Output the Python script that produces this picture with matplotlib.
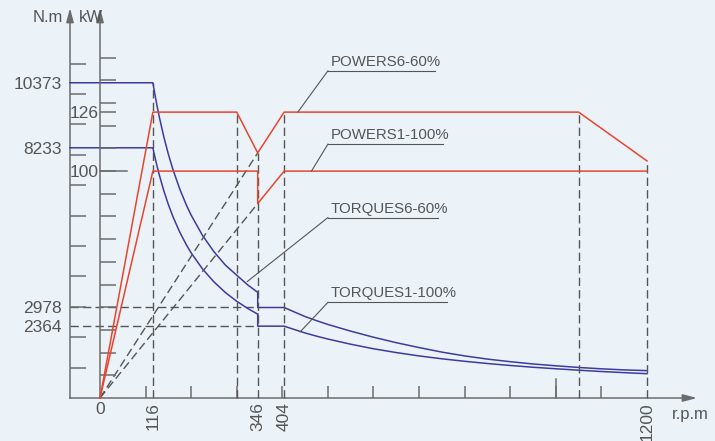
import matplotlib
matplotlib.use("Agg")
import matplotlib.pyplot as plt
from matplotlib.lines import Line2D
from matplotlib.ticker import FixedLocator, FixedFormatter

plt.rcParams['font.family'] = ['Liberation Sans', 'DejaVu Sans']

# ---------------- data ----------------
# Torque S6-60% (upper blue curve)
s6_torque_rpm_a = [0, 116, 120, 125, 130, 140, 150, 160, 175, 190, 200, 225, 250, 275, 300, 325, 346]
s6_torque_a = [10373, 10373, 10026, 9625, 9255, 8594, 8021, 7520, 6875, 6332, 6016, 5347, 4813,
               4375, 4040, 3710, 3477]
s6_torque_rpm_b = [346, 346, 404, 425, 450, 475, 500, 550, 600, 650, 700, 750, 800, 850, 900, 950,
                   1000, 1050, 1100, 1150, 1200]
s6_torque_b = [3477, 2978, 2978, 2840, 2680, 2545, 2420, 2200, 2000, 1820, 1660, 1510, 1385, 1280,
               1195, 1120, 1060, 1005, 960, 925, 900]

# Torque S1-100% (lower blue curve)
s1_torque_rpm_a = [0, 116, 120, 125, 130, 140, 150, 160, 175, 190, 200, 225, 250, 275, 300, 325, 346]
s1_torque_a = [8233, 8233, 7958, 7639, 7345, 6821, 6366, 5968, 5457, 5026, 4775, 4244, 3820, 3472,
               3183, 2938, 2760]
s1_torque_rpm_b = [346, 346, 404, 425, 450, 475, 500, 550, 600, 650, 700, 750, 800, 850, 900, 950,
                   1000, 1050, 1100, 1150, 1200]
s1_torque_b = [2760, 2364, 2364, 2260, 2140, 2035, 1940, 1770, 1620, 1495, 1385, 1290, 1208, 1135,
               1070, 1012, 962, 915, 872, 834, 800]

# Power S6-60% and S1-100% (red)
s6_power_rpm = [0, 116, 300, 346, 404, 1050, 1200]
s6_power = [0, 126, 126, 108, 126, 126, 104.5]
s1_power_rpm = [0, 116, 346, 346, 404, 1200]
s1_power = [0, 100, 100, 85.7, 100, 100]

# constant-torque construction lines from origin (power)
const_rpm = [0, 346]
const_power_hi = [0, 108]
const_power_lo = [0, 85.7]

# reference (dashed) torque levels
ref_torques = [2978, 2364]
ref_torque_end_rpm = 346

# vertical dashed markers: rpm, top value (kW)
vmark_rpm = [300, 346, 404, 1050, 1200]
vmark_top_kw = [126, 108, 126, 126, 104.5]
vmark_116_top_torque = 10373

# ticks
x_labels = [0, 116, 346, 404, 1200]
x_minor = [100, 200, 300, 400, 500, 600, 700, 800, 900, 1000, 1100]
x_long_tick = 1000
torque_labels = [2364, 2978, 8233, 10373]
torque_minor = [1000, 2000, 3000, 4000, 5000, 6000, 7000, 8000, 9000, 10000, 11000]
power_labels = [100, 126]
power_minor = [10, 20, 30, 40, 50, 60, 70, 80, 90, 100, 110, 120, 126, 130, 140, 150]
power_long_tick = 100

# annotation labels: text, anchor rpm, anchor value, axis ('p' power / 't' torque)
ann_text = ["POWERS6-60%", "POWERS1-100%", "TORQUES6-60%", "TORQUES1-100%"]
ann_rpm = [434, 464, 323, 439]
ann_val = [126, 100, 3830, 2175]
ann_axis = ['p', 'p', 't', 't']

# ---------------- layout ----------------
W, H = 715, 441
X0_PX, ZERO_PX = 100.0, 398.0          # pixel of rpm 0 / value 0 (from top)
X_SCALE = 0.4558                       # px per rpm
T_SCALE = 0.03039                      # px per N.m
P_SCALE = 2.269                        # px per kW
TAXIS_PX = 70.0
TOP_PX = 8.0
XARROW_PX = 697.0

BG = '#ECF3F8'
BLUE = '#3b3ba0'
RED = '#e8452f'
GREY = '#6c6c6c'
DASH = '#555555'
TXT = '#555555'
LABEL_FS = 12.5
ANN_FS = 10.8

def rpm_of(px):
    return (px - X0_PX) / X_SCALE

fig = plt.figure(figsize=(W / 100, H / 100), dpi=100, facecolor=BG)
ax = fig.add_axes([0, 0, 1, 1])
ax.set_facecolor(BG)
ax.set_xlim(rpm_of(0), rpm_of(W))
ax.set_ylim(-(H - ZERO_PX) / T_SCALE, ZERO_PX / T_SCALE)
ax2 = ax.twinx()
ax2.set_ylim(-(H - ZERO_PX) / P_SCALE, ZERO_PX / P_SCALE)
ax2.set_position([0, 0, 1, 1])
ax.set_position([0, 0, 1, 1])

taxis_x = rpm_of(TAXIS_PX)
t_top = (ZERO_PX - TOP_PX) / T_SCALE
p_top = (ZERO_PX - TOP_PX) / P_SCALE
x_end = rpm_of(XARROW_PX)

for a in (ax, ax2):
    for s in ('top', 'right'):
        a.spines[s].set_visible(False)
ax2.spines['bottom'].set_visible(False)

spw = 1.1
ax.spines['left'].set_position(('data', taxis_x))
ax.spines['left'].set_bounds(0, t_top - 8 / T_SCALE)
ax.spines['bottom'].set_position(('data', 0))
ax.spines['bottom'].set_bounds(taxis_x, x_end - 8 / X_SCALE)
ax2.spines['left'].set_position(('data', 0))
ax2.spines['left'].set_bounds(0, p_top - 8 / P_SCALE)
for sp in (ax.spines['left'], ax.spines['bottom'], ax2.spines['left']):
    sp.set_color(GREY)
    sp.set_linewidth(spw)

# arrows
arr = dict(arrowstyle='-|>,head_length=0.6,head_width=0.16', color=GREY, lw=spw,
           mutation_scale=14, shrinkA=0, shrinkB=0)
ax.annotate('', xy=(taxis_x, t_top), xytext=(taxis_x, t_top - 12 / T_SCALE), arrowprops=arr)
ax2.annotate('', xy=(0, p_top), xytext=(0, p_top - 12 / P_SCALE), arrowprops=arr)
ax.annotate('', xy=(x_end, 0), xytext=(x_end - 12 / X_SCALE, 0), arrowprops=arr)

# ticks: x
ax.xaxis.set_major_locator(FixedLocator(x_labels))
ax.xaxis.set_major_formatter(FixedFormatter([str(v) for v in x_labels]))
ax.xaxis.set_minor_locator(FixedLocator(x_minor))
ax.tick_params(axis='x', which='major', length=0, pad=3, labelsize=LABEL_FS,
               labelcolor=TXT, labelrotation=90)
ax.tick_params(axis='x', which='minor', length=12 * 0.72, width=spw,
               direction='in', color=GREY)
for lab in ax.get_xticklabels():
    if lab.get_text() == '0':
        lab.set_rotation(0)
ax.plot([x_long_tick, x_long_tick], [0, 19 / T_SCALE], color=GREY, lw=spw, zorder=2)

# ticks: torque
ax.yaxis.set_major_locator(FixedLocator(torque_labels))
ax.yaxis.set_major_formatter(FixedFormatter([str(v) for v in torque_labels]))
ax.yaxis.set_minor_locator(FixedLocator(torque_minor))
ax.tick_params(axis='y', which='major', length=0, pad=6, labelsize=LABEL_FS, labelcolor=TXT)
ax.tick_params(axis='y', which='minor', length=16 * 0.72, width=spw,
               direction='in', color=GREY)

# ticks: power
ax2.yaxis.tick_left()
ax2.yaxis.remove_overlapping_locs = False
ax2.yaxis.set_major_locator(FixedLocator(power_labels))
ax2.yaxis.set_major_formatter(FixedFormatter([str(v) for v in power_labels]))
ax2.yaxis.set_minor_locator(FixedLocator(power_minor))
ax2.tick_params(axis='y', which='major', length=0, pad=1, labelsize=LABEL_FS, labelcolor=TXT)
ax2.tick_params(axis='y', which='minor', length=16 * 0.72, width=spw,
                direction='in', color=GREY)
ax2.plot([0, 27 / X_SCALE], [power_long_tick, power_long_tick], color=GREY, lw=spw)

# dashed construction lines
dkw = dict(color=DASH, lw=1.0, ls=(0, (6, 3)), zorder=1)
ax.plot([116, 116], [0, vmark_116_top_torque], **dkw)
for r, top in zip(vmark_rpm, vmark_top_kw):
    ax2.plot([r, r], [0, top], **dkw)
for t in ref_torques:
    ax.plot([taxis_x, ref_torque_end_rpm], [t, t], **dkw)
ax2.plot(const_rpm, const_power_hi, **dkw)
ax2.plot(const_rpm, const_power_lo, **dkw)

# torque curves (extend to torque axis)
lw = 1.1
ax.plot([taxis_x] + s6_torque_rpm_a, [s6_torque_a[0]] + s6_torque_a, color=BLUE, lw=lw, zorder=3)
ax.plot(s6_torque_rpm_b, s6_torque_b, color=BLUE, lw=lw, zorder=3)
ax.plot([taxis_x] + s1_torque_rpm_a, [s1_torque_a[0]] + s1_torque_a, color=BLUE, lw=lw, zorder=3)
ax.plot(s1_torque_rpm_b, s1_torque_b, color=BLUE, lw=lw, zorder=3)

# power curves
ax2.plot(s6_power_rpm, s6_power, color=RED, lw=lw, zorder=3)
ax2.plot(s1_power_rpm, s1_power, color=RED, lw=lw, zorder=3)

# annotations with leaders
elbow_y = [70.7, 144.0, 217.5, 302.3]   # px from top
under_end = [435, 443, 438, 447]
ELBOW_X = 328.0
for txt, r, v, axk, ey, ue in zip(ann_text, ann_rpm, ann_val, ann_axis, elbow_y, under_end):
    a = ax2 if axk == 'p' else ax
    a.annotate('', xy=(r, v), xycoords='data', xytext=(ELBOW_X, H - ey),
               textcoords='figure pixels',
               arrowprops=dict(arrowstyle='-', color=DASH, lw=0.8, shrinkA=0, shrinkB=0))
    fig.add_artist(Line2D([ELBOW_X / W, ue / W], [1 - ey / H, 1 - ey / H],
                          transform=fig.transFigure, color=DASH, lw=0.8))
    fig.text((ELBOW_X + 3) / W, 1 - (ey - 2) / H, txt, fontsize=ANN_FS, color=TXT,
             ha='left', va='bottom')

# axis titles
fig.text(63 / W, 1 - 17.5 / H, 'N.m', fontsize=12, color=TXT, ha='right', va='center')
fig.text(79 / W, 1 - 17.5 / H, 'kW', fontsize=12, color=TXT, ha='left', va='center')
fig.text(672 / W, 1 - 415 / H, 'r.p.m', fontsize=12, color=TXT, ha='left', va='center')

fig.savefig('out.png', dpi=100, facecolor=BG)
